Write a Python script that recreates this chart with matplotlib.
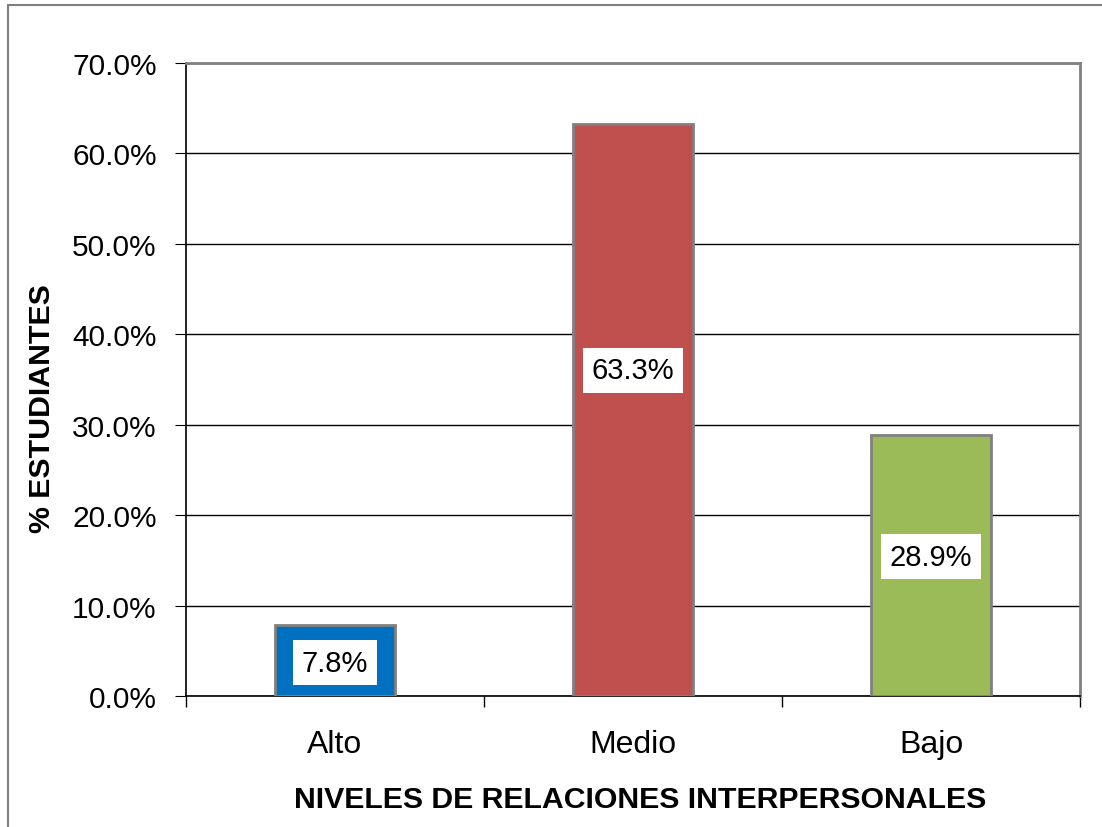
import matplotlib.pyplot as plt
from matplotlib.patches import Rectangle
from matplotlib.ticker import MultipleLocator, FuncFormatter

plt.rcParams["font.family"] = ["Liberation Sans", "DejaVu Sans"]

# datos
niveles = ["Alto", "Medio", "Bajo"]
porcentajes = [7.8, 63.3, 28.9]
colores = ["#0070C0", "#C0504D", "#9BBB59"]

# posición vertical de las etiquetas (en unidades del eje)
posicion_etiquetas = [3.7, 36.0, 15.4]

fig = plt.figure(figsize=(11.02, 8.28), dpi=100)
ax = fig.add_axes([186 / 1102, 131 / 828, 894 / 1102, 633 / 828])

# marco exterior del gráfico
fig.patches.append(Rectangle((8 / 1102, -0.1), 1.2, (822 / 828) + 0.1,
                             transform=fig.transFigure, fill=False,
                             edgecolor="#7f7f7f", linewidth=1.5))

x = range(len(niveles))
ax.bar(x, porcentajes, width=0.4, color=colores, edgecolor="#808080",
       linewidth=2, zorder=3)

for xi, v, yi in zip(x, porcentajes, posicion_etiquetas):
    ax.text(xi, yi, f"{v:.1f}%", ha="center", va="center", fontsize=21,
            zorder=4,
            bbox=dict(facecolor="white", edgecolor="none", pad=6))

ax.set_xlim(-0.5, 2.5)
ax.set_ylim(0, 70)
ax.yaxis.set_major_locator(MultipleLocator(10))
ax.yaxis.set_major_formatter(FuncFormatter(lambda v, _: f"{v:.1f}%"))
ax.grid(axis="y", color="black", linewidth=1, zorder=0)

ax.set_xticks(list(x))
ax.set_xticklabels(niveles)
ax.set_xticks([-0.5, 0.5, 1.5, 2.5], minor=True)
ax.tick_params(axis="x", which="major", length=0, labelsize=23, pad=24)
ax.tick_params(axis="x", which="minor", length=8, direction="out", width=1)
ax.tick_params(axis="y", length=8, direction="out", labelsize=21.5, pad=13)

for lado in ["top", "right"]:
    ax.spines[lado].set_color("#808080")
    ax.spines[lado].set_linewidth(2)
ax.spines["left"].set_linewidth(1.2)
ax.spines["bottom"].set_linewidth(1.2)

ax.set_xlabel("NIVELES DE RELACIONES INTERPERSONALES", fontsize=21.8,
              fontweight="bold", va="center")
ax.xaxis.set_label_coords(0.508, -0.163)
ax.set_ylabel("% ESTUDIANTES", fontsize=21.8, fontweight="bold",
              va="center")
ax.yaxis.set_label_coords(-0.161, 0.455)

fig.savefig("out.png", dpi=100)
